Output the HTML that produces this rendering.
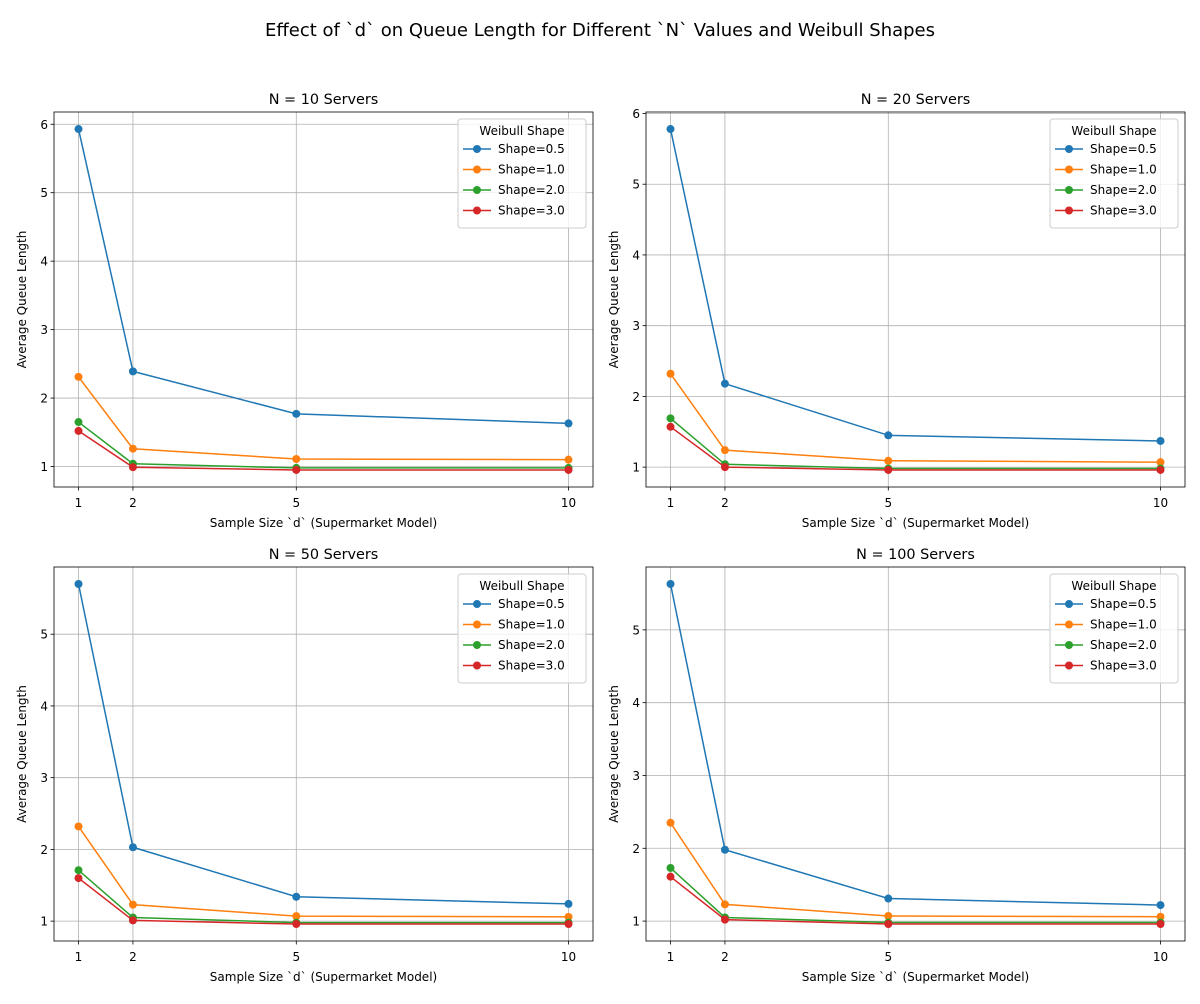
<!DOCTYPE html>
<html><head><meta charset="utf-8"><style>
body{margin:0;background:#fff;font-family:"DejaVu Sans","Liberation Sans",sans-serif;}
svg text{font-family:"DejaVu Sans","Liberation Sans",sans-serif;fill:#000}
</style></head><body>
<svg id="fig" width="1200" height="1000">
<text x="600" y="36" text-anchor="middle" font-size="18">Effect of `d` on Queue Length for Different `N` Values and Weibull Shapes</text>
</svg>
<script>
const categories=[1,2,5,10];
const shapeLabels=["Shape=0.5","Shape=1.0","Shape=2.0","Shape=3.0"];
const colors=["#1f77b4","#ff7f0e","#2ca02c","#d62728"];
const panelTitles=["N = 10 Servers","N = 20 Servers","N = 50 Servers","N = 100 Servers"];
const n10s05=[5.93,2.39,1.77,1.63], n10s1=[2.31,1.26,1.11,1.10], n10s2=[1.65,1.04,0.98,0.98], n10s3=[1.52,0.99,0.95,0.95];
const n20s05=[5.78,2.18,1.45,1.37], n20s1=[2.32,1.24,1.09,1.07], n20s2=[1.69,1.04,0.98,0.98], n20s3=[1.57,1.00,0.96,0.96];
const n50s05=[5.70,2.03,1.34,1.24], n50s1=[2.32,1.23,1.07,1.06], n50s2=[1.71,1.05,0.98,0.98], n50s3=[1.60,1.01,0.96,0.96];
const n100s05=[5.63,1.98,1.31,1.22], n100s1=[2.35,1.23,1.07,1.06], n100s2=[1.73,1.05,0.98,0.98], n100s3=[1.61,1.02,0.96,0.96];
const yTicks1=[1,2,3,4,5,6];
const yTicks2=[1,2,3,4,5];
const panelSeries=[[n10s05,n10s1,n10s2,n10s3],[n20s05,n20s1,n20s2,n20s3],[n50s05,n50s1,n50s2,n50s3],[n100s05,n100s1,n100s2,n100s3]];
const NS="http://www.w3.org/2000/svg";
const svg=document.getElementById('fig');
function mk(tag,attrs,parent){const e=document.createElementNS(NS,tag);for(const k in attrs)e.setAttribute(k,attrs[k]);(parent||svg).appendChild(e);return e;}
const boxes=[[54,112,593,487],[646,112,1185,487],[54,567,593,941],[646,567,1185,941]];
panelSeries.forEach((series,p)=>{
  const [x0,y0,x1,y1]=boxes[p];
  const g=mk('g',{});
  
  
  let all=[];series.forEach(s=>all=all.concat(s));
  const mn=Math.min(...all),mx=Math.max(...all),pad=(mx-mn)*0.05;
  const ymin=mn-pad,ymax=mx+pad;
  const xmin=0.55,xmax=10.45;
  const X=v=>x0+(v-xmin)/(xmax-xmin)*(x1-x0);
  const Y=v=>y1-(v-ymin)/(ymax-ymin)*(y1-y0);
  const ticks=ymax>=6?yTicks1:yTicks2;
  ticks.forEach(t=>{
    const gl=mk('line',{x1:x0,x2:x1,y1:Y(t),y2:Y(t),stroke:'#b0b0b0','stroke-width':0.8},g);
    
    mk('line',{x1:x0-3.5,x2:x0,y1:Y(t),y2:Y(t),stroke:'#000','stroke-width':0.8},g);
    const tl=mk('text',{x:x0-6,y:Y(t)+4.5,'text-anchor':'end','font-size':12},g);tl.textContent=t;
    
  });
  categories.forEach(c=>{
    mk('line',{x1:X(c),x2:X(c),y1:y0,y2:y1,stroke:'#b0b0b0','stroke-width':0.8},g);
    mk('line',{x1:X(c),x2:X(c),y1:y1,y2:y1+3.5,stroke:'#000','stroke-width':0.8},g);
    const tl=mk('text',{x:X(c),y:y1+20,'text-anchor':'middle','font-size':12},g);tl.textContent=c;
    
  });
  series.forEach((s,i)=>{
    const pl=mk('polyline',{points:s.map((v,j)=>X(categories[j])+','+Y(v)).join(' '),fill:'none',stroke:colors[i],'stroke-width':1.5},g);
    
    s.forEach((v,j)=>{const c=mk('circle',{cx:X(categories[j]),cy:Y(v),r:4,fill:colors[i]},g);
      });
  });
  mk('rect',{x:x0,y:y0,width:x1-x0,height:y1-y0,fill:'none',stroke:'#000','stroke-width':0.8},g);
  const tt=mk('text',{x:(x0+x1)/2,y:y0-8,'text-anchor':'middle','font-size':14.4},g);tt.textContent=panelTitles[p];
  
  const xl=mk('text',{x:(x0+x1)/2,y:y1+40,'text-anchor':'middle','font-size':12},g);xl.textContent='Sample Size `d` (Supermarket Model)';
  
  const yl=mk('text',{x:0,y:0,'text-anchor':'middle','font-size':12,transform:`translate(${x0-28},${(y0+y1)/2}) rotate(-90)`},g);yl.textContent='Average Queue Length';
  
  const lg=mk('g',{},g);
  
  const lx=x1-135,ly=y0+7;
  mk('rect',{x:lx,y:ly,width:128,height:109,rx:3,fill:'#fff','fill-opacity':0.8,stroke:'#ccc'},lg);
  const lt=mk('text',{x:lx+64,y:ly+16,'text-anchor':'middle','font-size':12},lg);lt.textContent='Weibull Shape';
  shapeLabels.forEach((l,i)=>{
    const yy=ly+34+i*20.5;
    const e=mk('g',{},lg);
    
    mk('line',{x1:lx+5,x2:lx+33,y1:yy-4,y2:yy-4,stroke:colors[i],'stroke-width':1.5},e);
    mk('circle',{cx:lx+19,cy:yy-4,r:4,fill:colors[i]},e);
    const t=mk('text',{x:lx+40,y:yy,'font-size':12},e);t.textContent=l;
  });
});
</script>
</body></html>
